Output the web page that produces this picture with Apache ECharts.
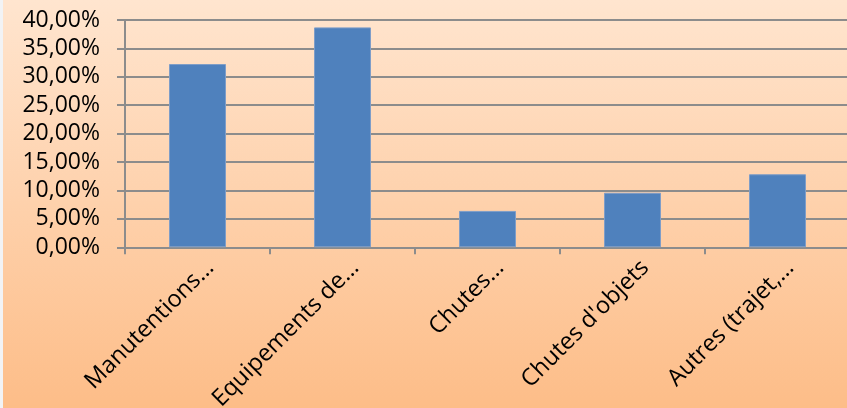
<!DOCTYPE html>
<html>
<head>
<meta charset="utf-8">
<script src="https://cdn.jsdelivr.net/npm/echarts@6/dist/echarts.min.js"></script>
<style>
html,body{margin:0;padding:0;background:#f2f3f5;overflow:hidden;}
#c{position:absolute;left:3px;top:0;width:844px;height:408px;}
</style>
</head>
<body>
<div id="c"></div>
<script>
const categories = ["Manutentions\u2026", "Equipements de\u2026", "Chutes\u2026", "Chutes d'objets", "Autres (trajet,\u2026"];
const values = [0.3225, 0.387, 0.064, 0.096, 0.1285];
const yTicks = { min: 0, max: 0.4, interval: 0.05 };

const chart = echarts.init(document.getElementById('c'), null, {renderer: 'canvas'});
const font = '"Open Sans", sans-serif';
chart.setOption({
  backgroundColor: {
    type: 'linear', x: 0, y: 0, x2: 0, y2: 1,
    colorStops: [{offset: 0, color: '#FFE5CF'}, {offset: 1, color: '#FDBD88'}]
  },
  animation: false,
  grid: { left: 122, right: -3, top: 20, bottom: 160.7, containLabel: false, outerBoundsMode: 'none' },
  xAxis: {
    type: 'category',
    data: categories,
    axisLine: { show: true, lineStyle: { color: '#8C8C8C', width: 2 } },
    axisTick: { show: true, length: 7, lineStyle: { color: '#8C8C8C', width: 2 } },
    axisLabel: {
      rotate: 45, interval: 0, margin: 4, verticalAlign: 'top', padding: [6, 0, 0, 0],
      color: '#000', fontSize: 23.5, fontFamily: font
    },
    splitLine: { show: false }
  },
  yAxis: {
    type: 'value',
    min: yTicks.min, max: yTicks.max, interval: yTicks.interval,
    axisLine: { show: true, lineStyle: { color: '#8C8C8C', width: 2 } },
    axisTick: { show: true, length: 8, lineStyle: { color: '#8C8C8C', width: 2 } },
    axisLabel: {
      margin: 25, color: '#000', fontSize: 23, fontFamily: font,
      formatter: v => (v * 100).toFixed(2).replace('.', ',') + '%'
    },
    splitLine: { show: true, lineStyle: { color: '#8C8C8C', width: 2 } }
  },
  series: [{
    type: 'bar',
    data: values,
    barWidth: 57,
    itemStyle: { color: '#4F81BD', borderColor: '#7E9DC8', borderWidth: 1 }
  }]
});
</script>
</body>
</html>
